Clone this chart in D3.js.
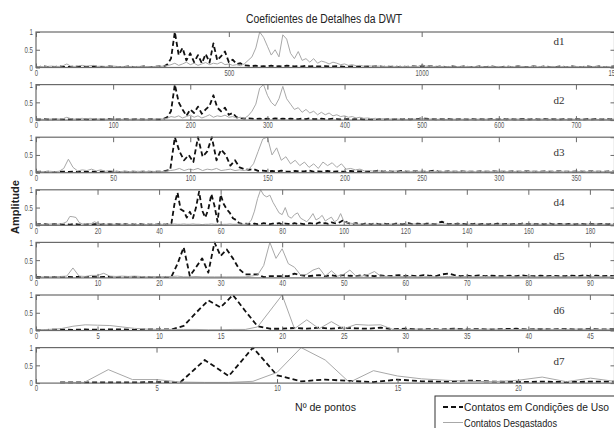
<!DOCTYPE html>
<html>
<head>
<meta charset="utf-8">
<script src="https://cdn.jsdelivr.net/npm/d3@7"></script>
<style>
  html, body { margin: 0; padding: 0; background: #fff; }
  svg { display: block; }
</style>
</head>
<body>
<svg id="chart" width="614" height="428"></svg>
<script>
// Detail coefficients of the DWT, levels d1..d7, amplitude normalised to 1.
// Values are stored in hundredths; each level is sampled every `sampleStep` points.
const levelNames = ["d1", "d2", "d3", "d4", "d5", "d6", "d7"];
const xMax = [1500, 750, 375, 188, 94, 47, 24];
const xTickStep = [500, 100, 50, 20, 10, 5, 5];
const sampleStep = [10, 5, 3, 1, 1, 1, 1];
const sampleStart = [0, 0, 0, 0, 0, 0, 1];
const yTickValues = [0, 0.5, 1];
const yTickLabels = ["0", "0.5", "1"];
const seriesNames = ["Contatos em Condições de Uso", "Contatos Desgastados"];

const d1Good = [
  2,2,3,2,2,2,3,2,2,2, 3,2,2,2,2,3,2,2,2,3, 2,2,2,2,3,2,2,2,3,2,
  2,2,3,2,8,25,100,35,55,20, 40,15,35,12,38,14,68,20,32,45, 15,22,10,12,6,5,4,5,3,4,
  3,5,3,4,3,5,4,3,4,3, 5,3,4,3,3,4,3,3,4,3, 2,3,3,2,3,2,3,2,3,3,
  2,3,2,3,2,3,2,3,3,2, 5,4,3,3,2,3,2,2,3,2, 2,3,2,2,2,3,2,2,3,2,
  2,2,3,2,2,3,2,2,2,3, 2,2,3,2,2,2,3,2,2,3, 2,2,2,3,2,2,3,2,2,2, 3
];
const d1Worn = [
  2,3,2,3,4,3,3,5,10,4, 3,5,6,4,5,6,3,4,3,3, 4,3,2,3,3,2,3,3,2,3,
  2,3,3,4,5,8,12,6,10,15, 8,12,6,10,14,8,12,10,15,8, 10,6,8,5,10,20,30,55,100,85,
  60,35,50,30,92,80,40,25,45,20, 25,15,25,12,18,15,10,15,12,8, 10,6,8,5,6,4,5,4,3,4,
  3,3,4,3,2,3,3,2,3,3, 6,4,3,3,2,3,2,3,2,2, 3,2,3,2,2,3,2,2,3,2,
  3,2,2,3,2,2,3,2,2,3, 2,3,2,2,3,2,2,3,2,2, 3,2,3,2,2,3,2,2,3,2, 2
];
const d2Good = [
  2,2,3,2,2,3,2,2,2,3, 2,2,3,2,2,2,3,2,2,3, 2,2,2,3,2,2,3,2,2,2,
  3,2,2,3,8,25,100,50,30,12, 30,20,38,18,30,40,70,35,25,35, 15,20,8,6,4,5,4,3,4,3,
  4,3,5,3,4,3,4,3,3,4, 3,5,3,3,4,3,3,4,3,2, 3,3,2,3,3,2,3,2,3,3,
  2,3,2,3,3,2,3,2,3,3, 5,4,3,3,2,3,2,3,2,2, 3,2,2,3,2,3,2,2,3,2,
  2,3,2,3,2,2,3,2,2,3, 2,2,3,2,3,2,2,3,2,2, 3,2,2,3,2,3,2,2,3,2, 3
];
const d2Worn = [
  2,3,2,3,3,4,3,4,8,4, 3,4,5,3,5,4,3,4,3,2, 3,3,2,3,2,3,3,2,3,2,
  3,3,4,3,5,10,8,12,6,10, 14,8,12,6,10,15,8,12,10,14, 8,10,6,8,5,12,25,45,90,100,
  70,50,40,60,95,60,45,30,35,22, 30,20,25,15,22,15,20,12,15,10, 12,8,10,6,8,5,6,4,5,3,
  4,3,3,4,3,3,2,3,3,2, 5,3,3,3,2,3,2,2,3,2, 3,2,3,2,2,3,2,3,2,2,
  3,2,2,3,2,3,2,2,3,2, 2,3,2,2,3,2,3,2,2,3, 2,2,3,2,3,2,2,3,2,2, 3
];
const d3Good = [
  2,3,2,3,2,3,3,2,3,2, 3,2,3,2,3,3,2,3,2,3, 2,3,2,3,3,2,3,3,5,8,
  100,60,35,50,30,100,45,60,100,35, 65,50,20,35,15,10,8,10,5,6, 4,5,3,6,4,3,5,3,4,6,
  3,4,3,5,3,4,3,3,5,3, 4,3,3,4,6,3,4,3,3,5, 3,3,4,3,3,4,6,3,3,4,
  3,3,4,3,3,3,4,3,3,4, 3,3,3,4,3,3,4,3,3,3, 4,3,3,4,3,3,3,4,3,3, 4,3,3,3,4,3
];
const d3Worn = [
  2,3,3,4,3,4,12,38,15,5, 8,6,10,5,8,4,6,4,3,4, 3,3,4,3,3,4,3,3,4,6,
  8,12,6,10,8,12,6,10,8,12, 6,8,10,6,8,6,10,25,60,95, 100,50,70,35,45,25,35,20,30,15,
  25,12,30,20,28,15,25,10,12,8, 10,5,6,4,5,4,3,4,5,3, 4,3,3,4,3,3,4,3,3,3,
  4,3,3,4,3,3,3,4,3,3, 4,3,3,3,4,3,3,4,3,3, 3,4,3,3,4,3,3,3,4,3, 3,4,3,3,3,4
];
const d4Good = [
  2,3,2,3,2,3,3,2,3,2, 3,2,3,3,2,3,2,3,2,3, 3,2,3,2,3,2,3,3,2,3, 2,3,2,3,3,2,3,2,3,2,
  3,3,2,3,5,60,92,45,40,22, 38,20,50,95,42,22,45,88,55,10, 86,60,45,35,20,15,6,4,5,4,
  3,5,3,4,6,4,3,5,4,6, 3,5,4,3,6,4,5,3,4,6, 5,4,8,5,6,4,8,6,5,10, 15,8,5,4,6,4,3,5,4,3,
  6,4,3,5,3,4,3,5,4,3, 4,6,4,3,5,4,3,5,4,3, 4,8,10,6,3,4,3,5,3,4, 3,4,3,5,3,4,3,3,4,3,
  5,3,3,4,3,3,4,3,5,3, 3,4,3,3,4,3,3,5,3,3, 4,3,3,4,3,3,3,4,3,3, 4,3,3,3,4,3,3,4,3
];
const d4Worn = [
  2,3,2,3,3,4,3,3,4,6, 10,25,24,22,8,4,3,4,5,10, 6,4,3,3,4,3,3,4,3,3, 2,3,3,2,3,3,2,3,3,2,
  3,3,2,3,3,4,3,3,4,3, 3,4,3,3,2,3,3,4,3,3, 2,3,3,4,3,3,4,3,3,5, 15,40,75,100,85,80,85,65,50,35,
  30,50,25,20,30,35,20,15,10,20, 33,15,20,28,12,18,23,10,15,33, 12,8,6,5,4,3,4,3,3,4,
  3,3,4,3,3,3,4,3,3,4, 3,3,3,4,3,3,4,3,3,3, 4,3,3,4,3,3,3,4,3,3, 4,3,3,3,4,3,3,4,3,3,
  3,4,3,3,4,3,3,3,4,3, 3,4,3,3,3,4,3,3,4,3, 3,3,4,3,3,4,3,3,3,4, 3,3,4,3,3,3,4,3,3
];
const d5Good = [
  3,3,2,3,3,3,2,3,3,3, 2,3,3,2,3,3,3,2,3,3, 2,3,3,40,86,5,30,55,15,100,
  62,80,55,25,10,10,10,2,5,5, 5,5,12,8,5,6,8,5,7,5, 8,6,5,8,6,5,7,5,6,8,
  5,6,5,8,6,5,10,12,8,5, 6,5,7,5,6,5,5,6,5,7, 5,5,6,5,6,5,5,6,5,7, 5,6,5,6,5
];
const d5Worn = [
  2,3,3,3,4,5,28,5,4,7, 7,13,5,4,5,4,5,4,3,4, 3,4,4,5,3,3,4,3,3,3,
  3,3,3,3,3,5,8,35,100,55, 82,40,30,8,10,22,28,5,20,5, 10,22,5,5,10,18,5,4,3,4,
  3,4,3,3,4,3,3,4,3,3, 4,3,3,4,3,3,3,4,3,3, 4,3,3,3,4,3,3,4,3,3, 3,4,3,3,4
];
const d6Good = [
  2,2,3,2,3,2,3,3,2,3, 3,3,13,50,85,65,100,55,12,5, 5,7,5,8,5,8,6,5,8,4,
  5,3,4,3,5,3,4,3,4,5, 3,4,3,4,3,4,3,4
];
const d6Worn = [
  2,3,5,12,16,15,14,10,6,4, 3,3,3,3,2,2,3,3,10,55, 100,5,30,5,25,5,17,15,16,3,
  3,4,3,3,4,3,3,4,3,3, 3,4,3,3,4,3,3,4
];
const d7Good = [2,2,2,2,3,3,65,20,100,22,5,10,6,3,10,5,4,7,4,3,4,3,4,4];
const d7Worn = [2,2,38,10,10,3,2,2,5,30,100,65,2,35,20,12,8,5,4,8,17,4,14,5];

const goodSeries = [d1Good, d2Good, d3Good, d4Good, d5Good, d6Good, d7Good].map(a => a.map(v => v / 100));
const wornSeries = [d1Worn, d2Worn, d3Worn, d4Worn, d5Worn, d6Worn, d7Worn].map(a => a.map(v => v / 100));

// ---- layout ----
const svg = d3.select("#chart");
const plotLeft = 36, plotRight = 614.5;
const firstTop = 32, panelPitch = 52.6, panelH = 35.5;
const levelLabelDy = [10, 16.5, 16, 13.5, 15.5, 16, 14.5];
const axisColor = "#6a6a6a";
const tickFont = "'Liberation Sans Narrow', 'Liberation Sans', Arial, sans-serif";
const textFont = "'Liberation Sans', Arial, sans-serif";

svg.append("rect").attr("width", 614).attr("height", 428).attr("fill", "#fff");

const defs = svg.append("defs");

// condensed tick labels: fixed advance per character
function squeeze(sel, perChar) {
  sel.each(function () {
    const t = this.textContent;
    let w = 0;
    for (const c of t) w += (c === "." ? 0.5 : 1) * perChar;
    d3.select(this).attr("textLength", w).attr("lengthAdjust", "spacingAndGlyphs");
  });
}

levelNames.forEach((name, k) => {
  const top = firstTop + k * panelPitch;
  const bottom = top + panelH;
  const x = d3.scaleLinear().domain([0, xMax[k]]).range([plotLeft, plotRight]);
  const y = d3.scaleLinear().domain([0, 1]).range([bottom, top]);
  const xTicks = d3.range(0, xMax[k] + 1e-9, xTickStep[k]);

  const g = svg.append("g").attr("class", "panel-" + name);

  defs.append("clipPath").attr("id", "clip-" + name)
    .append("rect").attr("x", plotLeft).attr("y", top - 1)
    .attr("width", plotRight - plotLeft).attr("height", panelH + 2);

  const line = d3.line()
    .x((v, j) => x(sampleStart[k] + j * sampleStep[k]))
    .y(v => y(v));

  const lines = g.append("g").attr("clip-path", "url(#clip-" + name + ")");
  lines.append("path")
    .attr("d", line(goodSeries[k]))
    .attr("fill", "none").attr("stroke", "#111")
    .attr("stroke-width", 1.8).attr("stroke-dasharray", "5,3")
    .attr("stroke-linejoin", "round");
  lines.append("path")
    .attr("d", line(wornSeries[k]))
    .attr("fill", "none").attr("stroke", "#a8a8a8")
    .attr("stroke-width", 1).attr("stroke-linejoin", "round");

  // bottom axis with labels, inward ticks
  const xb = g.append("g").attr("transform", `translate(0,${bottom})`)
    .call(d3.axisBottom(x).tickValues(xTicks).tickFormat(d3.format("d")).tickSize(-4).tickPadding(2));
  // top axis, inward ticks only
  const xt = g.append("g").attr("transform", `translate(0,${top})`)
    .call(d3.axisTop(x).tickValues(xTicks).tickFormat("").tickSize(-5));
  // left axis with labels, inward ticks
  const yl = g.append("g").attr("transform", `translate(${plotLeft},0)`)
    .call(d3.axisLeft(y).tickValues(yTickValues).tickFormat((d, i) => yTickLabels[i]).tickSize(-4).tickPadding(3));
  // right axis, inward ticks only
  const yr = g.append("g").attr("transform", `translate(${plotRight},0)`)
    .call(d3.axisRight(y).tickValues(yTickValues).tickFormat("").tickSize(-4));

  [xb, xt, yl, yr].forEach(a => {
    a.select(".domain").remove();
    a.selectAll("line").attr("stroke", axisColor).attr("stroke-width", 1);
    a.selectAll("text").attr("fill", "#555").style("font-family", tickFont).style("font-size", "9px");
  });
  squeeze(xb.selectAll("text"), 3.3);
  squeeze(yl.selectAll("text"), 3.4);

  g.append("rect")
    .attr("x", plotLeft).attr("y", top)
    .attr("width", plotRight - plotLeft).attr("height", panelH)
    .attr("fill", "none").attr("stroke", axisColor).attr("stroke-width", 1.2);

  g.append("text")
    .attr("x", 559).attr("y", top + levelLabelDy[k])
    .attr("text-anchor", "middle").attr("dominant-baseline", "middle")
    .style("font-family", "'Liberation Serif', 'Times New Roman', serif")
    .style("font-size", "11px").attr("fill", "#333")
    .text(name);
});

// title
svg.append("text")
  .attr("x", 324).attr("y", 23)
  .attr("text-anchor", "middle")
  .style("font-family", textFont).style("font-size", "12px").attr("fill", "#222")
  .attr("textLength", 156).attr("lengthAdjust", "spacingAndGlyphs")
  .text("Coeficientes de Detalhes da DWT");

// axis titles
svg.append("text")
  .attr("transform", "translate(19,207) rotate(-90)")
  .attr("text-anchor", "middle")
  .style("font-family", textFont).style("font-size", "11px").style("font-weight", "bold")
  .attr("fill", "#222")
  .text("Amplitude");

svg.append("text")
  .attr("x", 325.5).attr("y", 411)
  .attr("text-anchor", "middle")
  .style("font-family", textFont).style("font-size", "11.5px").attr("fill", "#222")
  .attr("textLength", 61).attr("lengthAdjust", "spacingAndGlyphs")
  .text("Nº de pontos");

// legend (box runs past the right and bottom edges)
const legend = svg.append("g");
legend.append("rect")
  .attr("x", 435).attr("y", 396).attr("width", 200).attr("height", 50)
  .attr("fill", "#fff").attr("stroke", "#333").attr("stroke-width", 1);
const legendRows = [
  { y: 407, stroke: "#111", width: 1.8, dash: "5,3", textLen: 145 },
  { y: 422.5, stroke: "#a8a8a8", width: 1, dash: null, textLen: 93 }
];
legendRows.forEach((r, i) => {
  legend.append("line")
    .attr("x1", 443).attr("x2", 463).attr("y1", r.y).attr("y2", r.y)
    .attr("stroke", r.stroke).attr("stroke-width", r.width)
    .attr("stroke-dasharray", r.dash);
  legend.append("text")
    .attr("x", 464).attr("y", r.y + 4)
    .style("font-family", textFont).style("font-size", "11px").attr("fill", "#222")
    .attr("textLength", r.textLen).attr("lengthAdjust", "spacingAndGlyphs")
    .text(seriesNames[i]);
});
</script>
</body>
</html>
